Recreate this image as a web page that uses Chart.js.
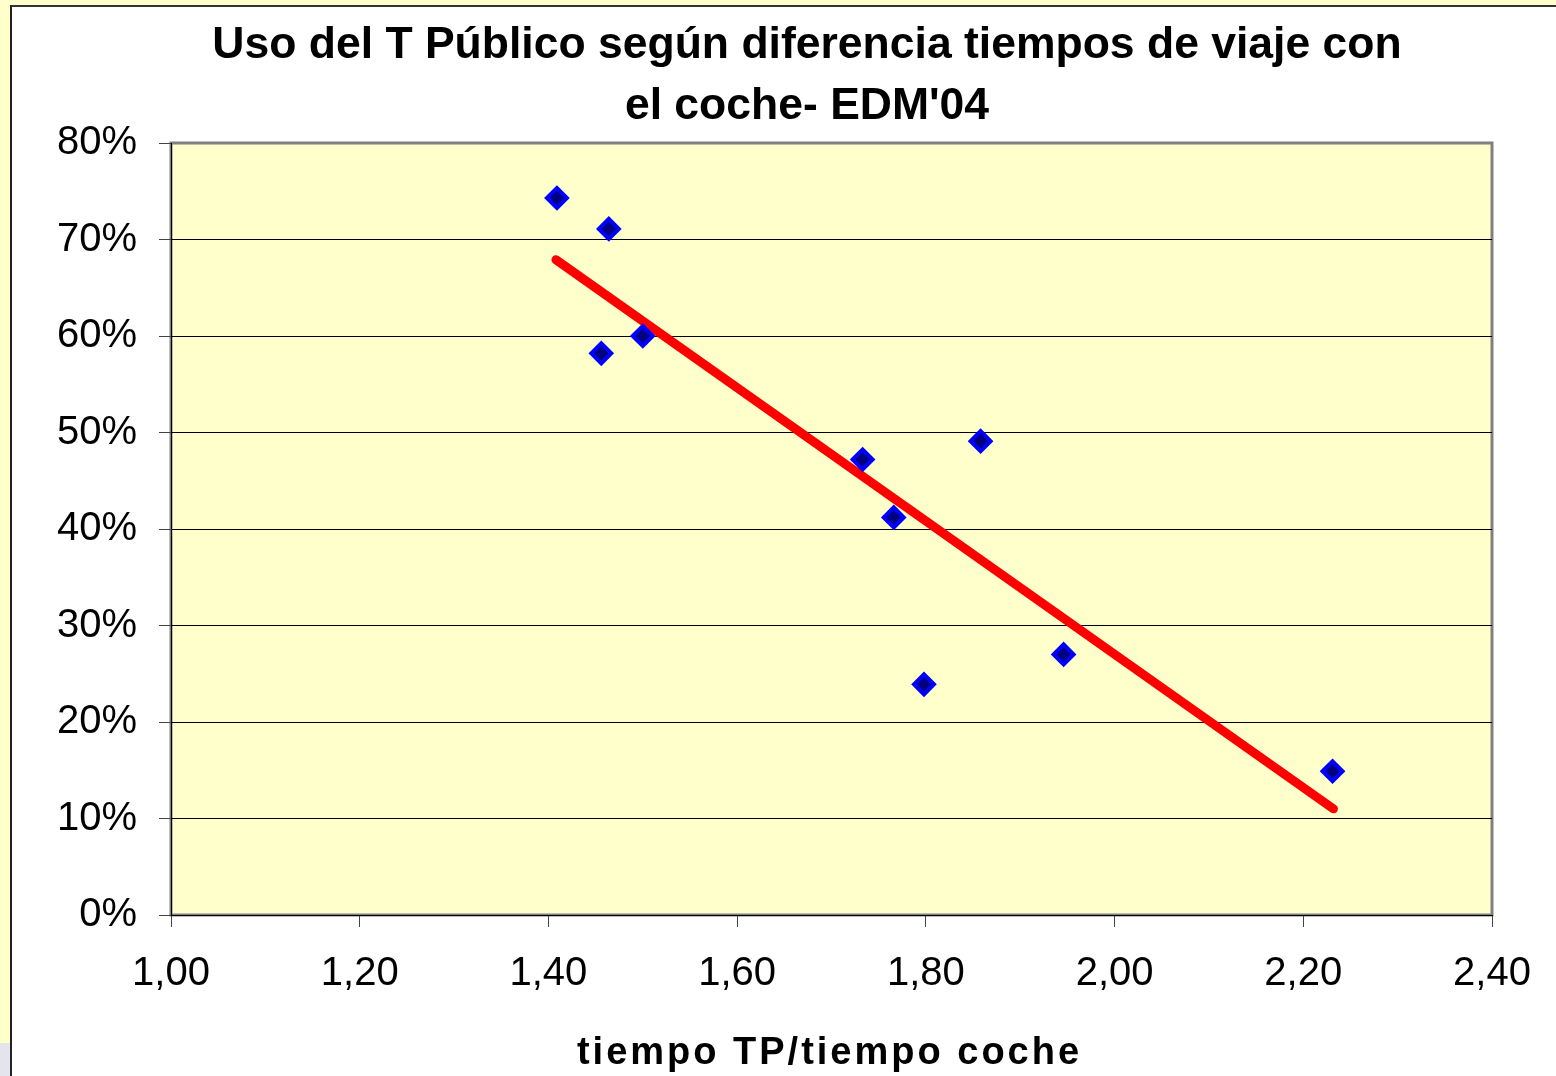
<!DOCTYPE html>
<html>
<head>
<meta charset="utf-8">
<script src="https://cdn.jsdelivr.net/npm/chart.js@4.4.1/dist/chart.umd.min.js"></script>
<style>
  html, body { margin: 0; padding: 0; background: #ffffcc; width: 1556px; height: 1076px; overflow: hidden; }
  #frame { position: absolute; left: 10px; top: 5px; width: 1544px; height: 1069px;
           border-left: 2px solid #222; border-top: 2px solid #333; background: #ffffff; }
  #chart { display: block; }
  #corner { position: absolute; left: 0; top: 1043px; width: 10px; height: 33px; background: #e4e4ec; }
</style>
</head>
<body>
<div id="corner"></div>
<div id="frame"><canvas id="chart" width="1544" height="1069"></canvas></div>
<script>
const titleLines = ["Uso del T Público según diferencia tiempos de viaje con", "el coche- EDM'04"];
const xAxisTitle = "tiempo TP/tiempo coche";
const ratioTP = [1.409, 1.464, 1.456, 1.500, 1.733, 1.766, 1.798, 1.858, 1.946, 2.231];
const usoTP   = [0.743, 0.711, 0.582, 0.600, 0.472, 0.412, 0.239, 0.491, 0.270, 0.149];
const trendX  = [1.408, 2.232];
const trendY  = [0.679, 0.110];
const xTickMin = 1.0, xTickMax = 2.4, xTickStep = 0.2;
const yTickMin = 0.0, yTickMax = 0.8, yTickStep = 0.1;

const FONT = "'Liberation Sans', Arial, sans-serif";

const scatterPoints = ratioTP.map((x, i) => ({ x: x, y: usoTP[i] }));
const trendPoints = trendX.map((x, i) => ({ x: x, y: trendY[i] }));

const plotFrame = {
  id: 'plotFrame',
  beforeDraw(chart) {
    const { ctx, chartArea: a } = chart;
    ctx.save();
    ctx.fillStyle = '#ffffcc';
    ctx.fillRect(a.left, a.top, a.right - a.left, a.bottom - a.top);
    ctx.strokeStyle = '#808080';
    ctx.lineWidth = 3;
    ctx.strokeRect(a.left, a.top, a.right - a.left, a.bottom - a.top);
    ctx.restore();
  },
  afterDraw(chart) {
    const { ctx, chartArea: a } = chart;
    ctx.save();
    ctx.fillStyle = '#000';
    ctx.textAlign = 'center';
    ctx.textBaseline = 'alphabetic';
    // chart title (two lines)
    ctx.font = "bold 44.5px " + FONT;
    const titleCx = 795;
    ctx.fillText(titleLines[0], titleCx, 51);
    ctx.fillText(titleLines[1], titleCx, 112);
    // x axis title
    ctx.font = "bold 38px " + FONT;
    ctx.letterSpacing = '3px';
    ctx.fillText(xAxisTitle, (a.left + a.right) / 2 - 2, 1057);
    ctx.restore();
  }
};

new Chart(document.getElementById('chart'), {
  type: 'scatter',
  data: {
    datasets: [
      {
        label: 'Uso TP',
        data: scatterPoints,
        pointStyle: 'rectRot',
        pointRadius: 10,
        pointHoverRadius: 10,
        backgroundColor: '#000080',
        borderColor: '#0000ff',
        borderWidth: 4,
        order: 1
      },
      {
        label: 'Tendencia',
        type: 'line',
        data: trendPoints,
        showLine: true,
        borderColor: '#ff0000',
        borderWidth: 9,
        borderCapStyle: 'round',
        pointRadius: 0,
        fill: false,
        order: 2
      }
    ]
  },
  options: {
    responsive: false,
    animation: false,
    devicePixelRatio: 1,
    layout: { padding: { left: 0, right: 64, top: 136, bottom: 0 } },
    plugins: {
      legend: { display: false },
      tooltip: { enabled: false },
      title: { display: false }
    },
    scales: {
      x: {
        type: 'linear',
        min: xTickMin, max: xTickMax,
        afterFit(s) { s.height = 161; },
        ticks: {
          stepSize: xTickStep,
          color: '#000',
          padding: 23,
          font: { family: FONT, size: 40 },
          callback: v => Number(v).toFixed(2).replace('.', ',')
        },
        grid: { drawOnChartArea: false, drawTicks: true, tickLength: 12, tickColor: '#444', tickWidth: 1 },
        border: { display: true, color: '#000', width: 1 }
      },
      y: {
        type: 'linear',
        min: yTickMin, max: yTickMax,
        afterFit(s) { s.width = 159; },
        ticks: {
          stepSize: yTickStep,
          color: '#000',
          padding: 22,
          font: { family: FONT, size: 40 },
          callback: v => Math.round(v * 100) + '%'
        },
        grid: {
          color: c => (c.tick && c.tick.value >= 0.799) ? 'rgba(0,0,0,0)' : '#000',
          lineWidth: 1,
          tickLength: 12,
          tickColor: '#444',
          tickWidth: 1
        },
        border: { display: true, color: '#000', width: 1 }
      }
    }
  },
  plugins: [plotFrame]
});
</script>
</body>
</html>
